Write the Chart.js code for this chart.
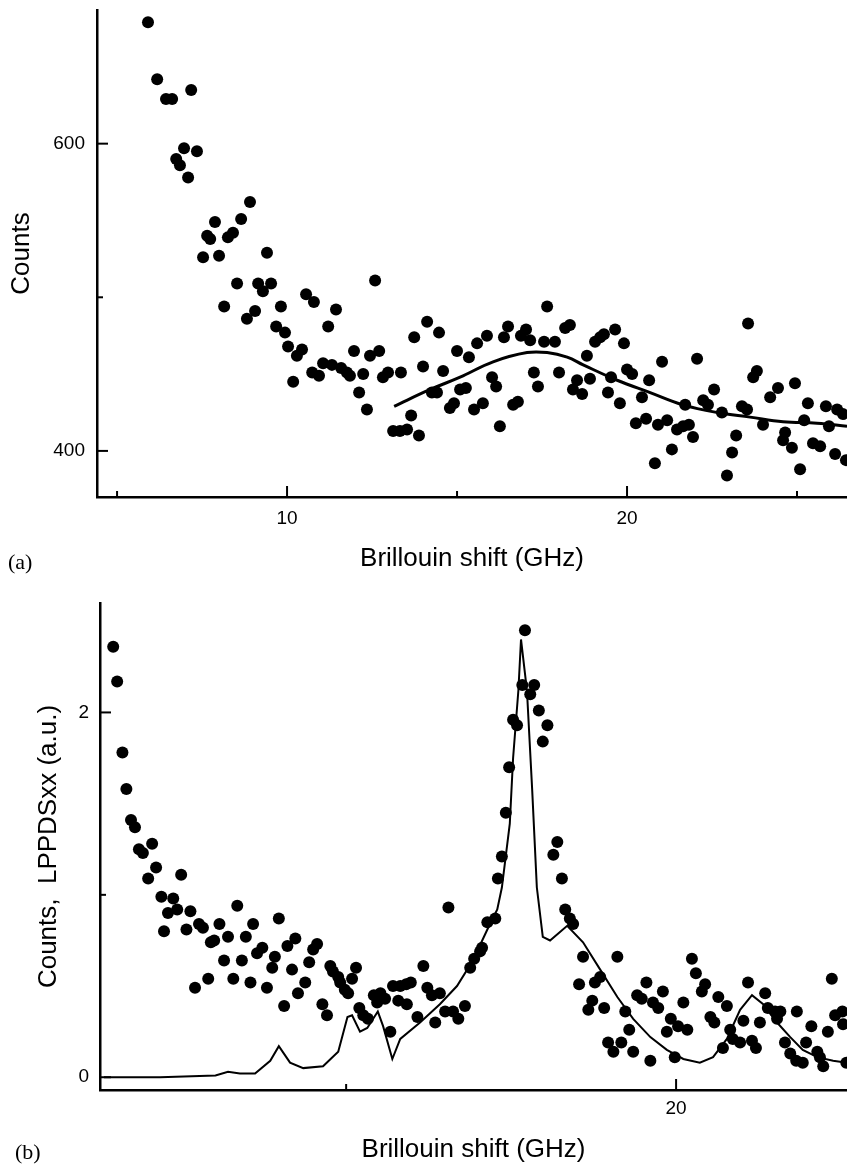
<!DOCTYPE html>
<html>
<head>
<meta charset="utf-8">
<script src="https://cdn.jsdelivr.net/npm/chart.js@4.4.1/dist/chart.umd.min.js"></script>
<style>
  body { margin: 0; background: #fff; width: 847px; height: 1165px; overflow: hidden; position: relative; }
  canvas { position: absolute; left: 0; }
  #chartA { top: 0; }
  #chartB { top: 590px; }
  .panel { position: absolute; font-family: 'Liberation Serif', 'Times New Roman', serif; font-size: 22px; line-height: 22px; color: #000; }
</style>
</head>
<body>
<canvas id="chartA" width="847" height="590"></canvas>
<canvas id="chartB" width="847" height="575"></canvas>
<div class="panel" style="left:8px;top:551px">(a)</div>
<div class="panel" style="left:15px;top:1141px">(b)</div>
<script>
// (a) measured counts and fitted curve
const aShift = [5.91, 6.18, 6.44, 6.62, 7.18, 6.97, 7.35, 6.74, 6.85, 7.09, 8.91, 7.88, 8.65, 7.65, 7.74, 8.26, 8.41, 7.53, 8.00, 9.41,
  8.53, 9.15, 9.29, 9.53, 12.59, 8.15, 8.82, 9.06, 9.82, 10.56, 10.79, 11.44, 11.21, 9.68, 9.94, 10.03, 10.29, 10.44, 11.97, 12.44,
  12.71, 10.18, 11.06, 11.32, 10.74, 10.94, 11.59, 11.76, 11.85, 12.24, 12.12, 12.35, 12.82, 12.97, 13.35, 13.12, 13.32, 13.53, 13.65, 13.88,
  13.74, 14.12, 14.47, 14.00, 14.26, 14.41, 14.59, 14.79, 14.91, 15.00, 15.35, 15.09, 15.26, 15.50, 15.76, 15.59, 15.88, 16.03, 16.15, 16.26,
  16.38, 16.50, 16.65, 16.79, 16.88, 17.03, 17.15, 17.26, 17.38, 17.65, 17.56, 17.88, 18.00, 18.18, 18.32, 18.41, 18.53, 18.68, 18.82, 19.06,
  19.21, 19.32, 19.65, 19.91, 18.91, 19.44, 19.53, 19.79, 20.00, 20.15, 20.44, 20.65, 21.03, 22.06, 20.26, 20.56, 20.91, 21.18, 21.47, 21.65,
  21.82, 21.94, 21.32, 20.82, 21.71, 22.24, 22.38, 22.56, 22.79, 23.21, 23.09, 22.94, 23.38, 23.53, 23.56, 23.71, 23.82, 24.00, 24.21, 24.44,
  24.94, 24.65, 24.59, 24.85, 25.09, 25.21, 25.32, 25.47, 25.68, 25.85, 25.94, 26.12, 26.18, 26.35, 26.44];
const aCounts = [679, 642, 629, 629, 635, 597, 595, 590, 586, 578, 562, 549, 551, 540, 538, 539, 542, 526, 527, 529,
  509, 509, 504, 509, 511, 494, 486, 491, 494, 502, 497, 492, 481, 481, 477, 468, 462, 466, 465, 462,
  465, 445, 457, 456, 451, 449, 454, 451, 449, 450, 438, 427, 448, 451, 451, 413, 413, 414, 423, 410,
  474, 484, 477, 455, 438, 438, 452, 428, 431, 465, 461, 440, 441, 427, 431, 470, 475, 448, 442, 416,
  474, 481, 430, 432, 475, 479, 472, 451, 442, 494, 471, 471, 451, 480, 482, 440, 446, 437, 462, 471,
  474, 476, 479, 470, 447, 438, 448, 431, 453, 450, 435, 446, 458, 460, 418, 421, 417, 420, 414, 416,
  417, 409, 401, 392, 430, 433, 430, 440, 425, 410, 399, 384, 429, 427, 483, 448, 452, 417, 435, 441,
  444, 412, 407, 402, 388, 420, 431, 405, 403, 429, 416, 398, 427, 424, 394];
const aFitShift = [13.15, 14.21, 15.09, 16.06, 17.06, 17.65, 18.24, 18.71, 19.71, 20.68, 21.65, 22.65, 23.62, 24.59, 25.59, 26.47];
const aFitCounts = [429, 440, 448, 458, 464, 464, 461, 456, 446, 438, 430, 425, 422, 419, 418, 416];

// (b) counts and LPPDSxx spectrum
const bShift = [11.47, 11.53, 11.61, 11.67, 11.74, 11.80, 11.86, 11.92, 12.06, 12.12, 12.00, 12.50, 12.20, 12.38, 12.30, 12.44, 12.64, 13.35, 13.98, 12.24,
  12.58, 12.77, 12.83, 13.08, 13.59, 13.21, 13.48, 12.95, 13.00, 13.65, 13.73, 13.92, 14.11, 14.23, 13.15, 13.42, 13.88, 14.18, 12.71, 12.91,
  13.29, 13.55, 13.80, 14.06, 14.27, 14.38, 14.50, 14.56, 14.44, 14.76, 14.80, 14.88, 14.91, 14.98, 15.03, 15.09, 15.15, 14.64, 14.71, 15.20,
  15.26, 15.33, 15.42, 15.52, 15.59, 15.47, 15.67, 15.71, 15.82, 15.91, 15.98, 15.79, 15.92, 16.08, 16.17, 16.23, 16.30, 16.42, 16.55, 16.35,
  16.50, 16.62, 16.70, 16.80, 16.88, 16.94, 17.03, 17.06, 17.14, 17.26, 17.30, 17.36, 17.42, 17.47, 17.53, 17.59, 17.71, 17.67, 17.85, 17.79,
  17.92, 18.05, 17.98, 18.20, 18.14, 18.27, 18.32, 18.39, 18.44, 18.59, 19.11, 18.53, 18.77, 18.85, 18.73, 18.67, 18.91, 19.23, 19.29, 18.97,
  19.05, 19.17, 19.35, 19.61, 19.55, 19.41, 19.48, 19.80, 19.65, 19.73, 20.11, 19.92, 20.03, 20.17, 19.86, 19.98, 20.24, 20.30, 20.44, 20.39,
  20.64, 20.77, 20.52, 20.58, 20.82, 20.71, 20.86, 20.97, 21.02, 21.09, 21.35, 21.27, 21.15, 21.21, 21.39, 21.50, 21.58, 21.53, 21.83, 21.65,
  21.73, 21.82, 21.92, 21.97, 22.05, 22.14, 22.18, 22.23, 22.36, 22.30, 22.41, 22.52, 22.53, 22.58];
const bCounts = [2.36, 2.17, 1.78, 1.58, 1.41, 1.37, 1.25, 1.23, 1.28, 1.15, 1.09, 1.11, 0.99, 0.98, 0.90, 0.92, 0.91, 0.94, 0.87, 0.80,
  0.81, 0.84, 0.82, 0.84, 0.84, 0.77, 0.77, 0.74, 0.75, 0.68, 0.71, 0.66, 0.72, 0.76, 0.64, 0.64, 0.60, 0.59, 0.49, 0.54,
  0.54, 0.52, 0.49, 0.39, 0.46, 0.52, 0.70, 0.73, 0.63, 0.61, 0.58, 0.55, 0.52, 0.48, 0.46, 0.54, 0.60, 0.40, 0.34, 0.38,
  0.34, 0.32, 0.45, 0.46, 0.43, 0.41, 0.25, 0.50, 0.50, 0.51, 0.52, 0.42, 0.40, 0.33, 0.61, 0.49, 0.45, 0.46, 0.93, 0.30,
  0.36, 0.36, 0.32, 0.39, 0.60, 0.65, 0.69, 0.71, 0.85, 0.87, 1.09, 1.21, 1.45, 1.70, 1.96, 1.93, 2.45, 2.15, 2.15, 2.10,
  2.01, 1.93, 1.84, 1.29, 1.22, 1.09, 0.92, 0.87, 0.84, 0.66, 0.66, 0.51, 0.52, 0.55, 0.42, 0.37, 0.38, 0.36, 0.26, 0.19,
  0.14, 0.19, 0.14, 0.09, 0.52, 0.45, 0.43, 0.47, 0.41, 0.38, 0.41, 0.32, 0.28, 0.26, 0.25, 0.11, 0.65, 0.57, 0.51, 0.47,
  0.44, 0.39, 0.33, 0.30, 0.26, 0.16, 0.21, 0.19, 0.31, 0.52, 0.46, 0.30, 0.20, 0.16, 0.38, 0.36, 0.36, 0.32, 0.36, 0.19,
  0.13, 0.09, 0.08, 0.19, 0.28, 0.14, 0.11, 0.06, 0.54, 0.25, 0.34, 0.36, 0.29, 0.08];
const bFitShift = [11.33, 12.18, 13.02, 13.21, 13.39, 13.62, 13.85, 13.98, 14.15, 14.35, 14.65, 14.88, 15.02, 15.09, 15.21, 15.32, 15.48, 15.56, 15.70, 15.82,
  16.12, 16.42, 16.68, 16.92, 17.14, 17.29, 17.36, 17.48, 17.53, 17.61, 17.65, 17.74, 17.82, 17.89, 17.98, 18.09, 18.35, 18.59, 18.85, 19.11,
  19.35, 19.61, 19.86, 20.11, 20.36, 20.56, 20.77, 20.97, 21.15, 21.32, 21.53, 21.73, 21.92, 22.14, 22.38, 22.59];
const bFitLevel = [0.00, 0.00, 0.01, 0.03, 0.02, 0.02, 0.09, 0.17, 0.08, 0.05, 0.06, 0.14, 0.33, 0.34, 0.25, 0.27, 0.36, 0.28, 0.10, 0.21,
  0.30, 0.40, 0.50, 0.64, 0.81, 0.92, 1.04, 1.39, 1.75, 2.12, 2.40, 2.12, 1.57, 1.04, 0.77, 0.75, 0.83, 0.74, 0.59, 0.44,
  0.32, 0.22, 0.15, 0.10, 0.08, 0.11, 0.21, 0.37, 0.45, 0.40, 0.30, 0.22, 0.15, 0.11, 0.09, 0.08];

// tick positions; only some of them carry a label
const aXTicks = [5, 10, 15, 20, 25], aXLabels = [10, 20];
const aYTicks = [400, 500, 600], aYLabels = [400, 600];
const bXTicks = [15, 20], bXLabels = [20];
const bYTicks = [0, 1, 2], bYLabels = [0, 2];

const SANS = "'Liberation Sans', Arial, Helvetica, sans-serif";
const pairs = (xs, ys) => xs.map((x, i) => ({ x: x, y: ys[i] }));

// tick marks drawn inside the plot, longer where the tick has a label
const inwardTicks = {
  id: 'inwardTicks',
  afterDraw(chart) {
    const ctx = chart.ctx, area = chart.chartArea;
    ctx.save();
    ctx.strokeStyle = '#000';
    ctx.lineWidth = 2;
    Object.values(chart.scales).forEach(scale => {
      scale.ticks.forEach(t => {
        const len = t.label ? 11 : 6;
        const p = scale.getPixelForValue(t.value);
        ctx.beginPath();
        if (scale.isHorizontal()) {
          ctx.moveTo(p, area.bottom);
          ctx.lineTo(p, area.bottom - len);
        } else {
          ctx.moveTo(area.left, p);
          ctx.lineTo(area.left + len, p);
        }
        ctx.stroke();
      });
    });
    ctx.restore();
  }
};

function axis(min, max, tickVals, labelVals, size, tickPad, title, titlePad) {
  return {
    type: 'linear',
    min: min,
    max: max,
    grid: { display: false, drawTicks: false },
    border: { display: true, color: '#000', width: 2.5 },
    afterBuildTicks: s => { s.ticks = tickVals.map(v => ({ value: v })); },
    ticks: {
      autoSkip: false,
      padding: tickPad,
      color: '#000',
      font: { family: SANS, size: 19 },
      callback: v => labelVals.includes(v) ? String(v) : ''
    },
    title: { display: true, text: title, color: '#000', font: { family: SANS, size: 26 }, padding: titlePad },
    afterFit: s => {
      if (s.isHorizontal()) { s.height = size; s.paddingLeft = 0; s.paddingRight = 0; }
      else { s.width = size; s.paddingTop = 0; s.paddingBottom = 0; }
    }
  };
}

function panel(id, dots, curve, curveWidth, tension, padTop, xAxis, yAxis) {
  return new Chart(document.getElementById(id), {
    type: 'scatter',
    data: {
      datasets: [
        { data: dots, backgroundColor: '#000', borderWidth: 0, pointRadius: 6, pointHoverRadius: 6 },
        { data: curve, showLine: true, borderColor: '#000', borderWidth: curveWidth, pointRadius: 0, tension: tension, fill: false }
      ]
    },
    options: {
      responsive: false,
      animation: false,
      events: [],
      layout: { autoPadding: false, padding: { top: padTop, right: 0, bottom: 0, left: 0 } },
      plugins: { legend: { display: false }, tooltip: { enabled: false } },
      scales: { x: xAxis, y: yAxis }
    },
    plugins: [inwardTicks]
  });
}

panel('chartA', pairs(aShift, aCounts), pairs(aFitShift, aFitCounts), 3, 0.4, 10,
  axis(4.41, 26.47, aXTicks, aXLabels, 93, 10, 'Brillouin shift (GHz)', { bottom: 16 }),
  axis(370, 687, aYTicks, aYLabels, 97, 12, 'Counts', { top: 6 }));

panel('chartB', pairs(bShift, bCounts), pairs(bFitShift, bFitLevel), 2, 0, 13,
  axis(11.27, 22.59, bXTicks, bXLabels, 75, 7, 'Brillouin shift (GHz)', { bottom: 0 }),
  axis(-0.07, 2.6, bYTicks, bYLabels, 100, 11, 'Counts,  LPPDSxx (a.u.)', { top: 33 }));
</script>
</body>
</html>
